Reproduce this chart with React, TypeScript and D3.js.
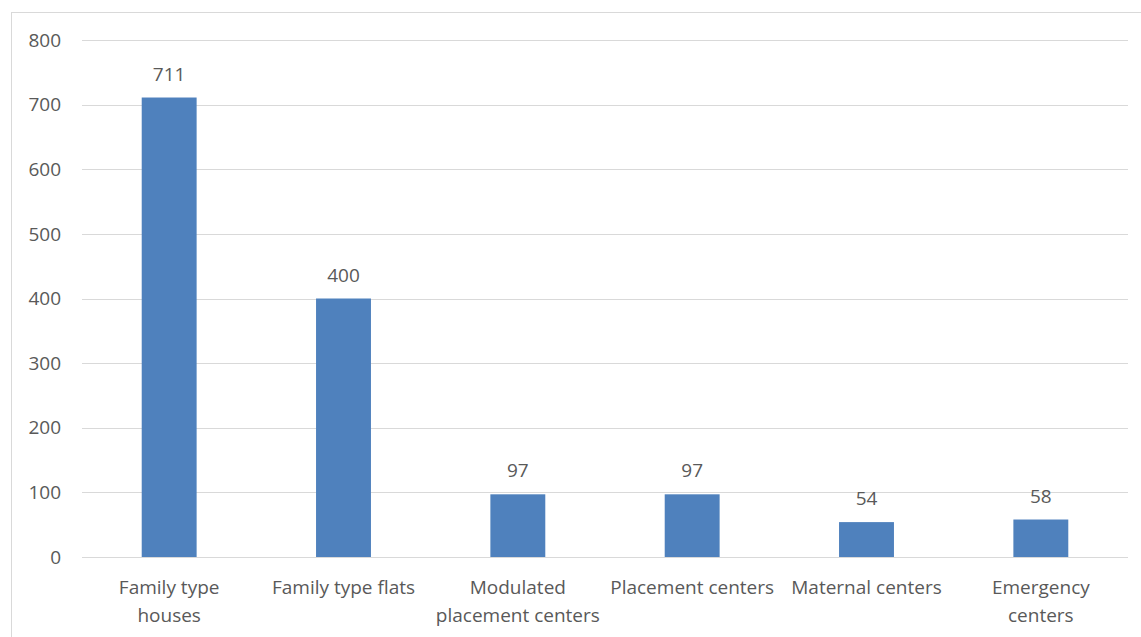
import React from "react";
import * as d3 from "d3";

const categories: string[][] = [
  ["Family type", "houses"],
  ["Family type flats"],
  ["Modulated", "placement centers"],
  ["Placement centers"],
  ["Maternal centers"],
  ["Emergency", "centers"],
];
const values: number[] = [711, 400, 97, 97, 54, 58];
const yTicks: number[] = [0, 100, 200, 300, 400, 500, 600, 700, 800];

const W = 1141;
const H = 637;
const plot = { left: 82, right: 1128, top: 40, bottom: 557 };
const FONT = "'Open Sans', sans-serif";
const TEXT = "#595959";
const FS = 19;

export default function App() {
  const keys = categories.map((_, i) => String(i));
  const x = d3
    .scaleBand<string>()
    .domain(keys)
    .range([plot.left, plot.right])
    .paddingInner(0)
    .paddingOuter(0);
  const y = d3.scaleLinear().domain([0, 800]).range([plot.bottom, plot.top]);
  const barW = x.bandwidth() * 0.315;

  return (
    <div style={{ position: "absolute", left: 0, top: 0 }}>
      <svg width={W} height={H} style={{ display: "block" }}>
        <rect width={W} height={H} fill="#fff" />
        {/* chart area border */}
        <rect x={11.5} y={12.5} width={W + 10} height={H + 10} fill="none" stroke="#d9d9d9" strokeWidth={1} />
        {yTicks.map((t) => (
          <g key={t}>
            <line
              x1={plot.left}
              x2={plot.right}
              y1={Math.round(y(t)) + 0.5}
              y2={Math.round(y(t)) + 0.5}
              stroke="#d9d9d9"
              strokeWidth={1}
            />
            <text
              x={61}
              y={y(t)}
              dy="0.35em"
              textAnchor="end"
              fontFamily={FONT}
              fontSize={FS}
              fill={TEXT}
            >
              {t}
            </text>
          </g>
        ))}
        {values.map((v, i) => {
          const cx = (x(String(i)) as number) + x.bandwidth() / 2;
          return (
            <g key={i}>
              <rect
                x={cx - barW / 2}
                y={y(v)}
                width={barW}
                height={y(0) - y(v)}
                fill="#4f81bd"
              />
              <text
                x={cx}
                y={y(v) - 17}
                textAnchor="middle"
                fontFamily={FONT}
                fontSize={FS}
                fill={TEXT}
              >
                {v}
              </text>
            </g>
          );
        })}
        {categories.map((lines, i) => {
          const cx = (x(String(i)) as number) + x.bandwidth() / 2;
          return (
            <text
              key={i}
              x={cx}
              y={594}
              textAnchor="middle"
              fontFamily={FONT}
              fontSize={FS}
              fill={TEXT}
            >
              {lines.map((l, j) => (
                <tspan key={j} x={cx} y={594 + j * 28}>
                  {l}
                </tspan>
              ))}
            </text>
          );
        })}
      </svg>
    </div>
  );
}
